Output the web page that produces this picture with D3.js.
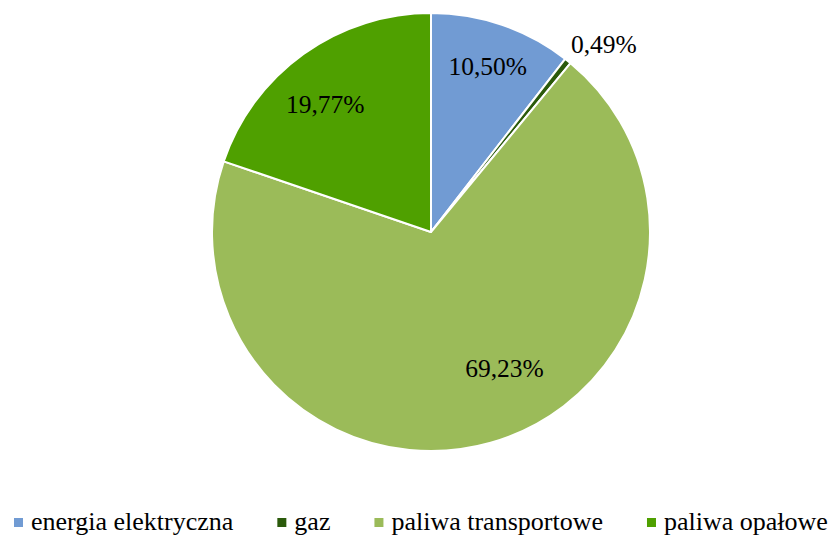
<!DOCTYPE html>
<html>
<head>
<meta charset="utf-8">
<script src="https://cdn.jsdelivr.net/npm/d3@7"></script>
<style>
  body { margin: 0; background: #fff; }
</style>
</head>
<body>
<script>
const width = 831
const height = 536

const categories = ['energia elektryczna', 'gaz', 'paliwa transportowe', 'paliwa opałowe']
const values = [10.50, 0.49, 69.23, 19.77]
const labels = ['10,50%', '0,49%', '69,23%', '19,77%']
const colors = ['#719bd3', '#2b5a0b', '#9bbb59', '#4fa000']

// label placement: radius and angle shift (degrees) per slice
const labelRadius = [175, 255, 155, 166]
const labelShift = [0, 4, -12.5, -4]

const center = [431, 232]
const radius = 219
const font = "'Liberation Serif', 'DejaVu Serif', serif"

const svg = d3.select('body')
  .append('svg')
    .attr('width', width)
    .attr('height', height)
    .style('display', 'block')
    .style('font-family', font)

const pie = d3.pie()
  .sort(null)
  .value((d) => d)

const arcs = pie(values)

const arc = d3.arc()
  .innerRadius(0)
  .outerRadius(radius)

const g = svg.append('g')
  .attr('transform', 'translate(' + center + ')')

g.selectAll('path')
  .data(arcs)
  .join('path')
    .attr('d', arc)
    .attr('fill', (d, i) => colors[i])
    .attr('stroke', '#fff')
    .attr('stroke-width', 2)
    .attr('stroke-linejoin', 'round')

g.selectAll('text')
  .data(arcs)
  .join('text')
    .attr('text-anchor', 'middle')
    .attr('dy', '0.35em')
    .style('font-family', font)
    .attr('font-size', 25.5)
    .attr('fill', '#000')
    .attr('transform', (d, i) => {
      const a = (d.startAngle + d.endAngle) / 2 + labelShift[i] * Math.PI / 180
      const r = labelRadius[i]
      return 'translate(' + [r * Math.sin(a), -r * Math.cos(a)] + ')'
    })
    .text((d, i) => labels[i])

// legend

const legend = svg.append('g')
  .style('font-family', font)
  .attr('font-size', 26)

let lx = 14
categories.forEach((c, i) => {
  const item = legend.append('g')
    .attr('transform', 'translate(' + lx + ',0)')
  item.append('rect')
    .attr('x', 0)
    .attr('y', 518)
    .attr('width', 9)
    .attr('height', 9)
    .attr('fill', colors[i])
  const t = item.append('text')
    .attr('x', 17)
    .attr('y', 530)
    .text(c)
  lx += 17 + t.node().getComputedTextLength() + 44
})
</script>
</body>
</html>
